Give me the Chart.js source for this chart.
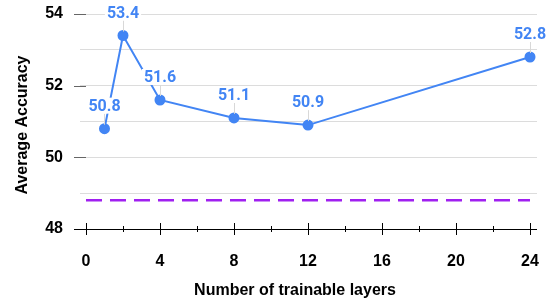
<!DOCTYPE html>
<html>
<head>
<meta charset="utf-8">
<script src="https://cdn.jsdelivr.net/npm/chart.js@4/dist/chart.umd.min.js"></script>
<style>
html, body { margin: 0; padding: 0; background: #fff; }
</style>
</head>
<body>
<canvas id="accChart" width="555" height="300"></canvas>
<script>
// Accuracy vs number of trainable layers
var layers = [1, 2, 4, 8, 12, 24];
var accuracy = [50.8, 53.4, 51.6, 51.1, 50.9, 52.8];
var baselineAcc = 48.8;
var xTickValues = [0, 4, 8, 12, 16, 20, 24];
var xMinorValues = [2, 6, 10, 14, 18, 22];
var yTickValues = [48, 49, 50, 51, 52, 53, 54];
var yLabelValues = [48, 50, 52, 54];

var BLUE = '#4285F4';
var PURPLE = '#A020F0';
var AXIS_FONT = 'Liberation Sans, Arial, sans-serif';

// axis line, tick marks, point labels and axis titles
var decorPlugin = {
    id: 'decor',
    afterDatasetsDraw: function(chart) {
        var ctx = chart.ctx;
        var xs = chart.scales.x;
        var ys = chart.scales.y;
        var area = chart.chartArea;
        var y0 = ys.getPixelForValue(48);

        ctx.save();
        // x axis line
        ctx.strokeStyle = '#000';
        ctx.lineWidth = 1;
        ctx.beginPath();
        ctx.moveTo(area.left - 6, y0 + 0.5);
        ctx.lineTo(area.right, y0 + 0.5);
        ctx.stroke();

        // major / minor ticks crossing the line
        xTickValues.forEach(function(v) {
            var px = Math.round(xs.getPixelForValue(v)) + 0.5;
            ctx.beginPath();
            ctx.moveTo(px, y0 - 6);
            ctx.lineTo(px, y0 + 6);
            ctx.stroke();
        });
        xMinorValues.forEach(function(v) {
            var px = Math.round(xs.getPixelForValue(v)) + 0.5;
            ctx.beginPath();
            ctx.moveTo(px, y0 - 3);
            ctx.lineTo(px, y0 + 3);
            ctx.stroke();
        });

        // y tick marks on labelled values
        ctx.strokeStyle = '#666';
        yLabelValues.forEach(function(v) {
            if (v === 48) return;
            var py = Math.round(ys.getPixelForValue(v)) + 0.5;
            ctx.beginPath();
            ctx.moveTo(area.left - 6, py);
            ctx.lineTo(area.left + 6, py);
            ctx.stroke();
        });

        // value labels above points
        ctx.font = 'bold 16px Roboto';
        ctx.textAlign = 'center';
        ctx.textBaseline = 'middle';
        layers.forEach(function(l, i) {
            var px = xs.getPixelForValue(l);
            var py = ys.getPixelForValue(accuracy[i]);
            var txt = accuracy[i].toFixed(1);
            var w = ctx.measureText(txt).width;
            ctx.strokeStyle = '#d8d8d8';
            ctx.beginPath();
            ctx.moveTo(Math.round(px) + 0.5, py - 15);
            ctx.lineTo(Math.round(px) + 0.5, py - 4);
            ctx.stroke();
            ctx.fillStyle = '#fff';
            ctx.fillRect(px - w / 2 - 2, py - 31, w + 4, 16);
            ctx.fillStyle = BLUE;
            ctx.fillText(txt, px, py - 22);
        });

        // axis titles
        ctx.fillStyle = '#000';
        ctx.font = 'bold 16px ' + AXIS_FONT;
        ctx.fillText('Number of trainable layers', 295, 291);
        ctx.translate(23, 125);
        ctx.rotate(-Math.PI / 2);
        ctx.fillText('Average Accuracy', 0, 0);
        ctx.restore();
    }
};

var ctx = document.getElementById('accChart').getContext('2d');

new Chart(ctx, {
    type: 'line',
    data: {
        datasets: [{
            label: 'Accuracy',
            data: layers.map(function(l, i) { return { x: l, y: accuracy[i] }; }),
            borderColor: BLUE,
            backgroundColor: BLUE,
            borderWidth: 2,
            pointRadius: 4.5,
            pointHoverRadius: 4.5,
            tension: 0
        }, {
            label: 'Baseline',
            data: [
                { x: xTickValues[0], y: baselineAcc },
                { x: xTickValues[xTickValues.length - 1], y: baselineAcc }
            ],
            borderColor: PURPLE,
            borderWidth: 2.5,
            borderDash: [16, 8],
            pointRadius: 0
        }]
    },
    options: {
        responsive: false,
        animation: false,
        layout: {
            padding: { top: 14, right: 18, left: 0, bottom: 0 }
        },
        scales: {
            x: {
                type: 'linear',
                min: -0.324,
                max: 24.378,
                afterBuildTicks: function(scale) {
                    scale.ticks = xTickValues.map(function(v) { return { value: v }; });
                },
                afterFit: function(scale) {
                    scale.height = 71;
                    scale.paddingLeft = 0;
                    scale.paddingRight = 0;
                },
                grid: { display: false, drawTicks: false },
                border: { display: false },
                ticks: {
                    padding: 23,
                    color: '#000',
                    font: { family: AXIS_FONT, size: 16, weight: 'bold' }
                }
            },
            y: {
                min: 48,
                max: 54,
                afterBuildTicks: function(scale) {
                    scale.ticks = yTickValues.map(function(v) { return { value: v }; });
                },
                afterFit: function(scale) {
                    scale.width = 80;
                    scale.paddingTop = 0;
                    scale.paddingBottom = 0;
                },
                grid: {
                    color: '#dcdcdc',
                    lineWidth: 1,
                    drawTicks: false
                },
                border: { display: false },
                ticks: {
                    padding: 17,
                    color: '#000',
                    font: { family: AXIS_FONT, size: 16, weight: 'bold' },
                    callback: function(v) {
                        return yLabelValues.indexOf(v) >= 0 ? v : '';
                    }
                }
            }
        },
        plugins: {
            legend: { display: false },
            tooltip: { enabled: false }
        }
    },
    plugins: [decorPlugin]
});
</script>
</body>
</html>
